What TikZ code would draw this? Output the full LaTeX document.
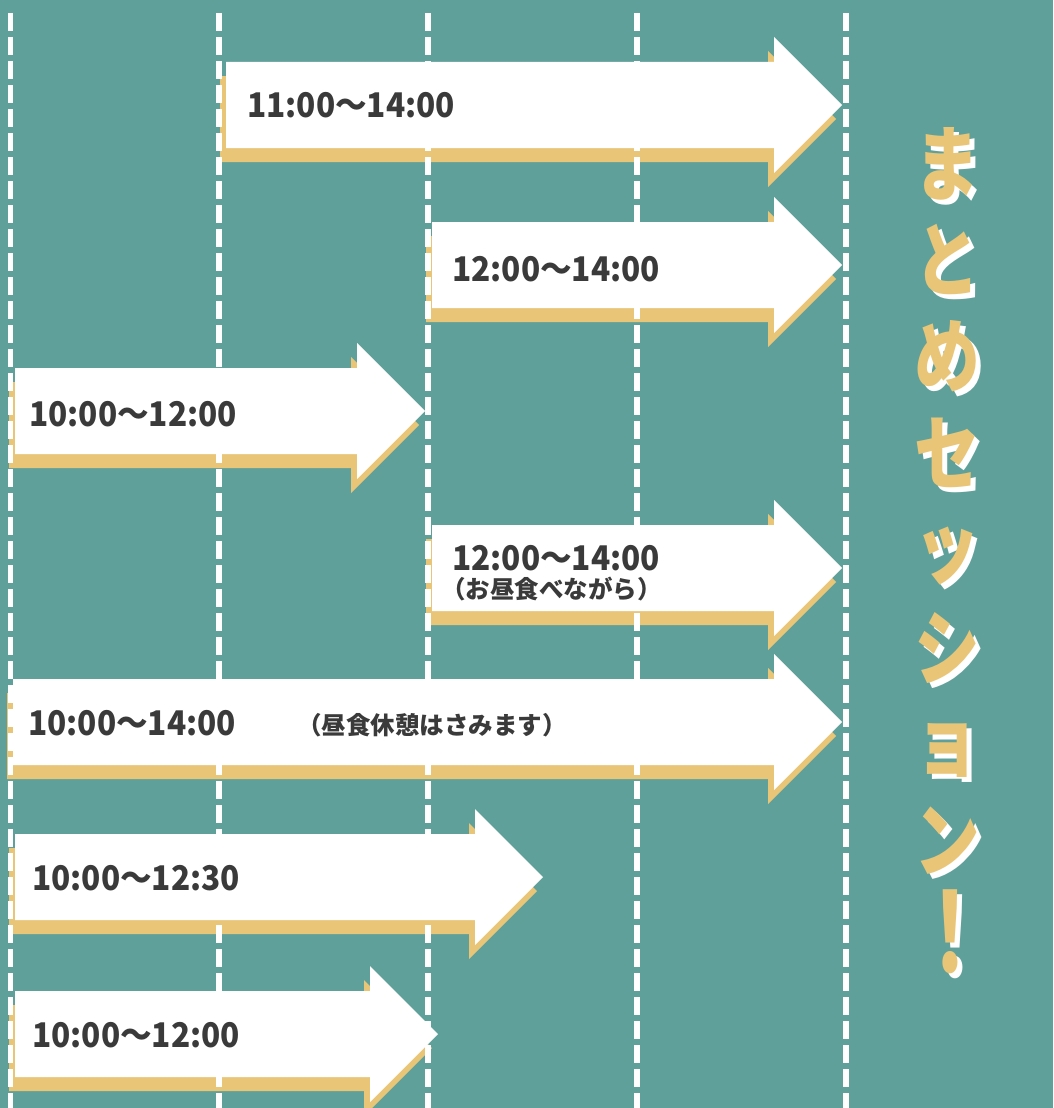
\documentclass[tikz,border=0pt]{standalone}
\usepackage{fontspec}
\setmainfont{Noto Sans CJK JP}
\definecolor{bgteal}{HTML}{5FA19A}
\definecolor{shy}{HTML}{E9C577}
\definecolor{txtgray}{HTML}{3A3A3A}
\tikzset{
  shadowfill/.style={fill=shy},
  arrowfill/.style={fill=white},
  vline/.style={white, line width=5.5pt, dash pattern=on 18pt off 6pt},
  timelabel/.style={anchor=base west, inner sep=0pt, text=txtgray, font=\bfseries\fontsize{34}{34}\selectfont},
  notelabel/.style={anchor=base west, inner sep=0pt, text=txtgray, font=\bfseries\fontsize{24.5}{24.5}\selectfont},
  titlechar/.style={inner sep=0pt, text=shy, font=\bfseries\fontsize{82}{82}\selectfont},
  titleshadow/.style={titlechar, text=white},
}
\newcommand\arrowshape[4]{%
  \fill[#1] (#2,{#4-43}) -- ({#3-68},{#4-43}) -- ({#3-68},{#4-68}) -- (#3,#4)
    -- ({#3-68},{#4+68}) -- ({#3-68},{#4+43}) -- (#2,{#4+43}) -- cycle;}
\newcommand\tlab[1]{\scalebox{0.93}[1]{#1}}
\newcommand\tch[1]{\scalebox{0.8}[1]{#1}}
\begin{document}
\begin{tikzpicture}[x=1pt,y=-1pt]
\fill[bgteal] (0,0) rectangle (1053,1108);
\useasboundingbox (0,0) rectangle (1053,1108);
% shadows
\begin{scope}[shift={(-6,14)}]
  \arrowshape{shadowfill}{226}{842}{105}
  \arrowshape{shadowfill}{432}{842}{265}
  \arrowshape{shadowfill}{15}{425}{411}
  \arrowshape{shadowfill}{432}{842}{568}
  \arrowshape{shadowfill}{13}{842}{722}
  \arrowshape{shadowfill}{15}{543}{877}
  \arrowshape{shadowfill}{15}{438}{1034}
\end{scope}
% dashed guide lines
\foreach \x in {10.5,219,428,637,846}
  \draw[vline] (\x,13) -- (\x,1120);
% arrows
\arrowshape{arrowfill}{226}{842}{105}
\arrowshape{arrowfill}{432}{842}{265}
\arrowshape{arrowfill}{15}{425}{411}
\arrowshape{arrowfill}{432}{842}{568}
\arrowshape{arrowfill}{13}{842}{722}
\arrowshape{arrowfill}{15}{543}{877}
\arrowshape{arrowfill}{15}{438}{1034}
% labels
\node[timelabel] (l1) at (247,117) {\tlab{11:00～14:00}};
\node[timelabel] (l2) at (452,281) {\tlab{12:00～14:00}};
\node[timelabel] (l3) at (29,426) {\tlab{10:00～12:00}};
\node[timelabel] (l4) at (452,570) {\tlab{12:00～14:00}};
\node[notelabel] (n4) at (441,598) {（お昼食べながら）};
\node[timelabel] (l5) at (28,735) {\tlab{10:00～14:00}};
\node[notelabel] (n5) at (297,734) {（昼食休憩はさみます）};
\node[timelabel] (l6) at (32,890) {\tlab{10:00～12:30}};
\node[timelabel] (l7) at (32,1047) {\tlab{10:00～12:00}};
% title
\foreach \c/\yy/\n in {ま/164/t1,と/260/t2,め/356/t3,セ/453/t4,ッ/556/t5,シ/648/t6,ョ/750/t7,ン/841/t8}{
  \node[titleshadow] (\n s) at (952,\yy+5) {\tch{\c}};
  \node[titlechar] (\n) at (947,\yy) {\tch{\c}};
}
\node[titleshadow] (t9s) at (955,937) {\scalebox{0.9}[1.35]{！}};
\node[titlechar] (t9) at (950,932) {\scalebox{0.9}[1.35]{！}};
\end{tikzpicture}
\end{document}
